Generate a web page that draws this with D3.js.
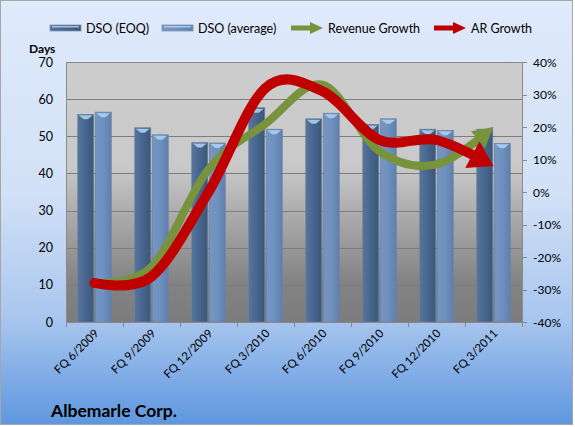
<!DOCTYPE html>
<html>
<head>
<meta charset="utf-8">
<script src="https://cdn.jsdelivr.net/npm/d3@7"></script>
<style>
  body { margin: 0; background: #fff; }
  text { font-family: Lato, "Open Sans", sans-serif; fill: #000; }
</style>
</head>
<body>
<div id="chart"></div>
<script>
// data
var categories = ["FQ 6/2009", "FQ 9/2009", "FQ 12/2009", "FQ 3/2010", "FQ 6/2010", "FQ 9/2010", "FQ 12/2010", "FQ 3/2011"]
var dsoEoq = [55.9, 52.3, 48.3, 57.7, 54.7, 53.2, 51.9, 51.9]
var dsoAvg = [56.5, 50.4, 48.2, 51.9, 56.2, 54.7, 51.6, 48.1]
var revenueGrowth = [-0.28, -0.23, 0.07, 0.21, 0.33, 0.125, 0.085, 0.20]
var arGrowth = [-0.28, -0.26, 0.0, 0.32, 0.31, 0.16, 0.16, 0.08]
var leftTicks = [0, 10, 20, 30, 40, 50, 60, 70]
var rightTicks = [-0.4, -0.3, -0.2, -0.1, 0, 0.1, 0.2, 0.3, 0.4]

var W = 575, H = 427
var plot = { left: 66, right: 522, top: 62, bottom: 322 }

var svg = d3.select("#chart").append("svg")
  .attr("width", W)
  .attr("height", H)

var defs = svg.append("defs")

// background gradients
var bg = defs.append("linearGradient").attr("id", "bg").attr("x1", 0).attr("y1", 0).attr("x2", 0).attr("y2", 1)
bg.append("stop").attr("offset", "0%").attr("stop-color", "#dfeafb")
bg.append("stop").attr("offset", "45%").attr("stop-color", "#d2e1f7")
bg.append("stop").attr("offset", "75%").attr("stop-color", "#a9c6ee")
bg.append("stop").attr("offset", "100%").attr("stop-color", "#5e97df")

var pg = defs.append("linearGradient").attr("id", "pg").attr("x1", 0).attr("y1", 0).attr("x2", 0).attr("y2", 1)
pg.append("stop").attr("offset", "0%").attr("stop-color", "#cdcdcd")
pg.append("stop").attr("offset", "40%").attr("stop-color", "#c9c9c9")
pg.append("stop").attr("offset", "60%").attr("stop-color", "#a9a9a9")
pg.append("stop").attr("offset", "85%").attr("stop-color", "#838383")
pg.append("stop").attr("offset", "100%").attr("stop-color", "#7c7c7c")

function barGrad(id, c1, c2, c3) {
  var g = defs.append("linearGradient").attr("id", id).attr("x1", 0).attr("y1", 0).attr("x2", 1).attr("y2", 0)
  g.append("stop").attr("offset", "0%").attr("stop-color", c1)
  g.append("stop").attr("offset", "45%").attr("stop-color", c2)
  g.append("stop").attr("offset", "100%").attr("stop-color", c3)
}
barGrad("gEoq", "#56749c", "#48668f", "#3b5879")
barGrad("gAvg", "#7595c2", "#6f92c0", "#5f80ad")

svg.append("rect")
  .attr("x", 0.5).attr("y", 0.5)
  .attr("width", W - 3).attr("height", H - 3)
  .attr("fill", "url(#bg)")
  .attr("stroke", "#a6a6a6")

svg.append("rect")
  .attr("x", plot.left).attr("y", plot.top)
  .attr("width", plot.right - plot.left).attr("height", plot.bottom - plot.top)
  .attr("fill", "url(#pg)")

// scales
var x = d3.scaleBand().domain(categories).range([plot.left, plot.right])
var y = d3.scaleLinear().domain([0, 70]).range([plot.bottom, plot.top])
var y2 = d3.scaleLinear().domain([-0.4, 0.4]).range([plot.bottom, plot.top])

// gridlines
svg.append("g")
  .selectAll("line")
  .data(leftTicks.slice(1))
  .enter()
  .append("line")
  .attr("x1", plot.left).attr("x2", plot.right)
  .attr("y1", function (d) { return Math.round(y(d)) + 0.5 })
  .attr("y2", function (d) { return Math.round(y(d)) + 0.5 })
  .attr("stroke", "#7d7d7d")

// bars
var barW = 16, gap = 1.5
var series = [
  { name: "DSO (EOQ)", values: dsoEoq, fill: "url(#gEoq)", off: -barW - gap / 2 },
  { name: "DSO (average)", values: dsoAvg, fill: "url(#gAvg)", off: gap / 2 }
]
series.forEach(function (s) {
  var g = svg.append("g")
  var cx = function (i) { return x(categories[i]) + x.bandwidth() / 2 + s.off }
  g.selectAll("rect")
    .data(s.values)
    .enter()
    .append("rect")
    .attr("x", function (d, i) { return cx(i) })
    .attr("y", function (d) { return y(d) })
    .attr("width", barW)
    .attr("height", function (d) { return plot.bottom - y(d) })
    .attr("fill", s.fill)
    .attr("stroke", "#6d819e")
    .attr("stroke-width", 0.7)
  // light bevel cap at the top
  g.selectAll("path")
    .data(s.values)
    .enter()
    .append("path")
    .attr("d", function (d, i) {
      var x0 = cx(i), t = y(d)
      return "M" + (x0 + 1) + "," + (t + 1) + "L" + (x0 + barW - 1) + "," + (t + 1) +
        "L" + (x0 + barW / 2 + 2) + "," + (t + 5) + "L" + (x0 + barW / 2 - 2) + "," + (t + 5) + "Z"
    })
    .attr("fill", "#a8d0f2")
    .attr("opacity", 0.9)
})

// plot border (top + right) and axes
svg.append("path")
  .attr("d", "M" + plot.left + "," + (plot.top + 0.5) + "H" + (plot.right + 0.5) + "V" + plot.bottom)
  .attr("fill", "none").attr("stroke", "#8a8a8a")
svg.append("line")
  .attr("x1", plot.left + 0.5).attr("x2", plot.left + 0.5)
  .attr("y1", plot.top).attr("y2", plot.bottom)
  .attr("stroke", "#8a8a8a")

var xAxis = svg.append("g")
  .attr("transform", "translate(0," + plot.bottom + ")")
xAxis.append("line")
  .attr("x1", plot.left).attr("x2", plot.right + 1)
  .attr("y1", 0.5).attr("y2", 0.5)
  .attr("stroke", "#8a8a8a")
xAxis.selectAll(".tk")
  .data(d3.range(categories.length + 1))
  .enter()
  .append("line")
  .attr("x1", function (i) { return plot.left + i * x.bandwidth() + 0.5 })
  .attr("x2", function (i) { return plot.left + i * x.bandwidth() + 0.5 })
  .attr("y1", 0).attr("y2", 5)
  .attr("stroke", "#8a8a8a")
xAxis.selectAll("text")
  .data(categories)
  .enter()
  .append("text")
  .attr("text-anchor", "end")
  .attr("transform", function (d) { return "translate(" + (x(d) + x.bandwidth() / 2 + 5) + ",12) rotate(-45)" })
  .style("font-size", "11.5px")
  .text(function (d) { return d })

// left labels
svg.append("g")
  .selectAll("text")
  .data(leftTicks)
  .enter()
  .append("text")
  .attr("x", 53)
  .attr("y", function (d) { return y(d) + 4.5 })
  .attr("text-anchor", "end")
  .style("font-size", "12.5px")
  .text(function (d) { return d })

// right axis
var rAxis = svg.append("g")
rAxis.selectAll("line")
  .data(rightTicks)
  .enter()
  .append("line")
  .attr("x1", plot.right).attr("x2", plot.right + 5)
  .attr("y1", function (d) { return Math.round(y2(d)) + 0.5 })
  .attr("y2", function (d) { return Math.round(y2(d)) + 0.5 })
  .attr("stroke", "#8a8a8a")
rAxis.selectAll("text")
  .data(rightTicks)
  .enter()
  .append("text")
  .attr("x", 533)
  .attr("y", function (d) { return y2(d) + 4.5 })
  .style("font-size", "12px")
  .text(function (d) { return d3.format(".0%")(d).replace("\u2212", "-") })

svg.append("text")
  .attr("x", 29).attr("y", 53)
  .style("font-size", "12px")
  .style("font-weight", "bold")
  .text("Days")

// growth lines with arrow heads
var line = d3.line()
  .x(function (d, i) { return x(categories[i]) + x.bandwidth() / 2 })
  .y(function (d) { return y2(d) })
  .curve(d3.curveCatmullRom.alpha(0))

function arrowLine(values, color, width, headLen, headHalf) {
  var p = svg.append("path")
    .attr("d", line(values))
    .attr("fill", "none")
    .attr("stroke", color)
    .attr("stroke-width", width)
    .attr("stroke-linecap", "round")
  var node = p.node()
  var L = node.getTotalLength()
  var end = node.getPointAtLength(L)
  var back = node.getPointAtLength(L - headLen)
  p.attr("stroke-dasharray", (L - headLen + 2) + "," + (L + 10))
  var a = Math.atan2(end.y - back.y, end.x - back.x)
  var bx = end.x - Math.cos(a) * headLen, by = end.y - Math.sin(a) * headLen
  var nx = -Math.sin(a) * headHalf, ny = Math.cos(a) * headHalf
  svg.append("path")
    .attr("d", "M" + end.x + "," + end.y + "L" + (bx + nx) + "," + (by + ny) +
      "L" + (bx - nx) + "," + (by - ny) + "Z")
    .attr("fill", color)
}
arrowLine(revenueGrowth, "#77933c", 8, 20, 11)
arrowLine(arGrowth, "#c00000", 10, 24, 15)

// legend
var legend = svg.append("g")
function legendBar(x0, fill, label) {
  legend.append("rect").attr("x", x0).attr("y", 25).attr("width", 31).attr("height", 6)
    .attr("fill", fill).attr("stroke", "#7e93b3").attr("stroke-width", 0.8)
  legend.append("rect").attr("x", x0 + 2).attr("y", 26).attr("width", 27).attr("height", 1.5)
    .attr("fill", "#b9d8f4").attr("opacity", 0.8)
  legend.append("text").attr("x", x0 + 36).attr("y", 32.5).style("font-size", "12.5px").text(label)
}
function legendArrow(x0, color, label) {
  legend.append("line").attr("x1", x0).attr("x2", x0 + 20).attr("y1", 28).attr("y2", 28)
    .attr("stroke", color).attr("stroke-width", 5)
  legend.append("path")
    .attr("d", "M" + (x0 + 32) + ",28L" + (x0 + 19) + ",22L" + (x0 + 19) + ",34Z")
    .attr("fill", color)
  legend.append("text").attr("x", x0 + 37).attr("y", 32.5).style("font-size", "12.5px").text(label)
}
legendBar(50, "url(#gEoq)", "DSO (EOQ)")
legendBar(162, "url(#gAvg)", "DSO (average)")
legendArrow(291, "#77933c", "Revenue Growth")
legendArrow(434, "#c00000", "AR Growth")

svg.append("text")
  .attr("x", 51).attr("y", 417)
  .style("font-size", "17.5px")
  .style("font-weight", "bold")
  .text("Albemarle Corp.")
</script>
</body>
</html>
